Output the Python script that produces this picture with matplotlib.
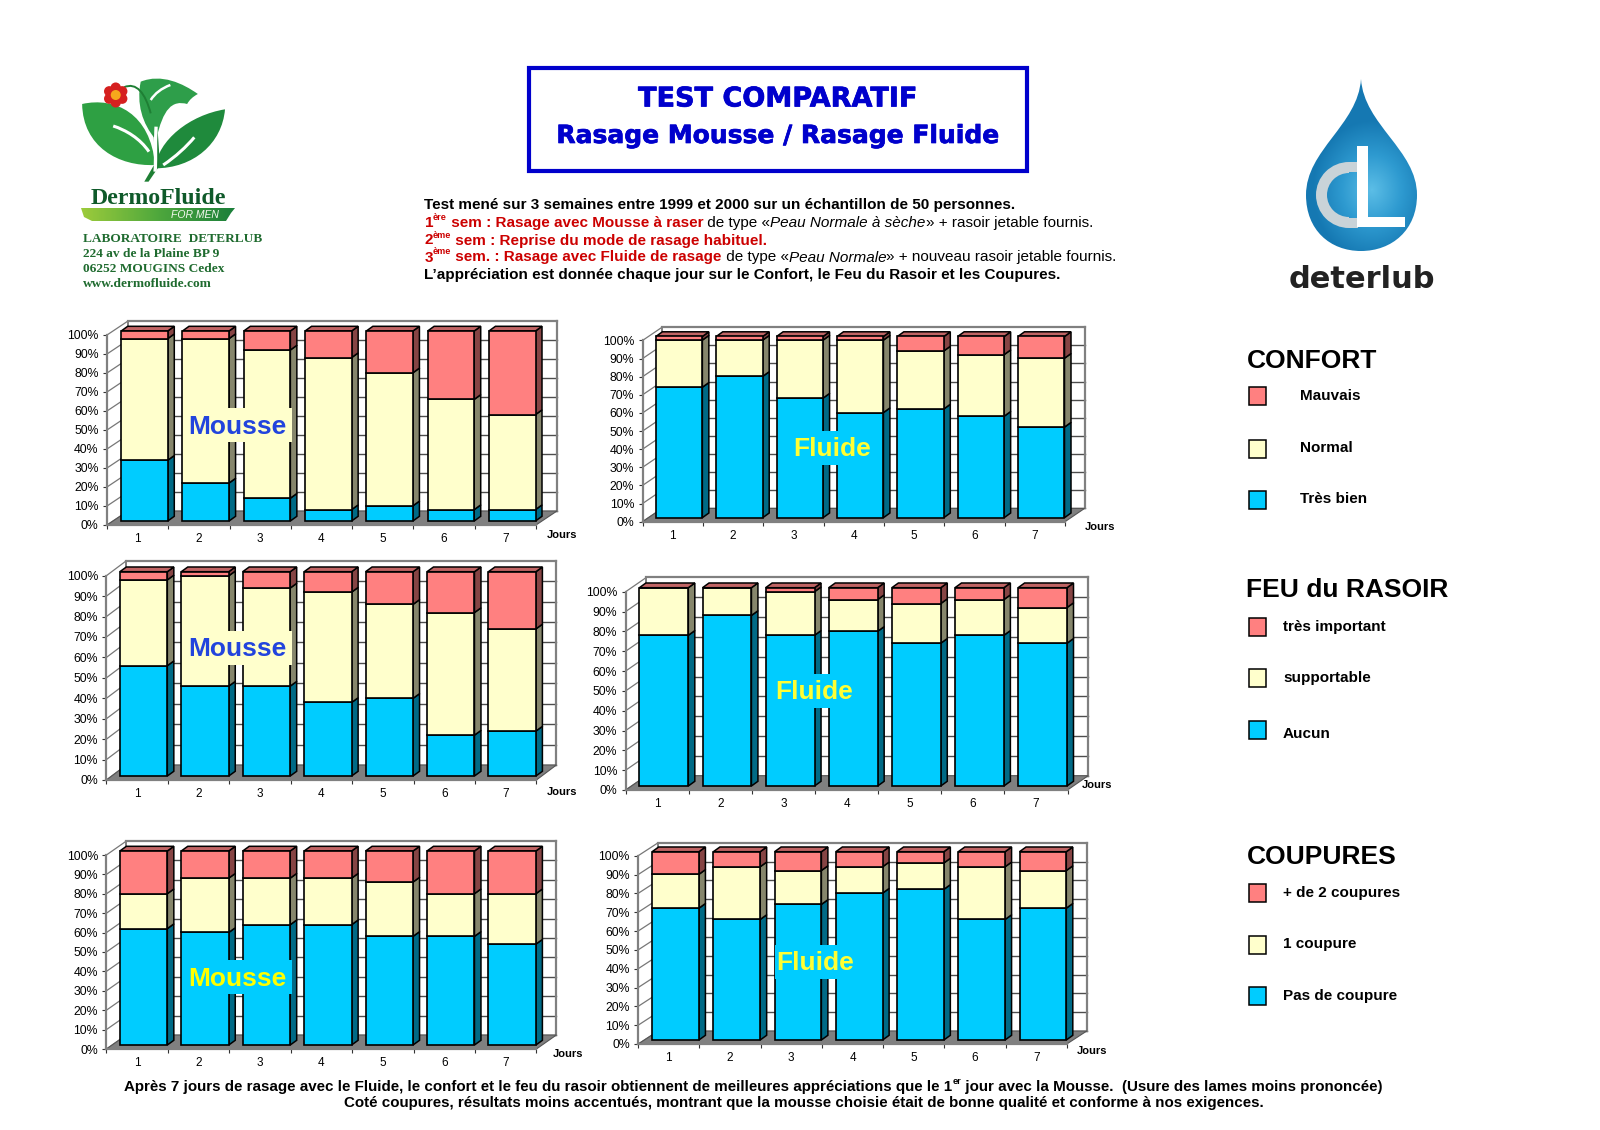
import numpy as np
import matplotlib
matplotlib.use("Agg")
import matplotlib.pyplot as plt
import matplotlib.patheffects as pe
from matplotlib.patches import Polygon, Rectangle, PathPatch, Circle, Wedge
from matplotlib.path import Path

W, H = 1600, 1130
SANS = "Liberation Sans"
SERIF = "Liberation Serif"
plt.rcParams["font.family"] = [SANS, "DejaVu Sans"]

days = ["1", "2", "3", "4", "5", "6", "7"]
pct_labels = ["0%", "10%", "20%", "30%", "40%", "50%", "60%", "70%", "80%", "90%", "100%"]
pct_ticks = [0, 10, 20, 30, 40, 50, 60, 70, 80, 90, 100]

confort_mousse_bien = [32, 20, 12, 6, 8, 6, 6]
confort_mousse_normal = [64, 76, 78, 80, 70, 58, 50]
confort_mousse_mauvais = [4, 4, 10, 14, 22, 36, 44]

confort_fluide_bien = [72, 78, 66, 58, 60, 56, 50]
confort_fluide_normal = [26, 20, 32, 40, 32, 34, 38]
confort_fluide_mauvais = [2, 2, 2, 2, 8, 10, 12]

feu_mousse_aucun = [54, 44, 44, 36, 38, 20, 22]
feu_mousse_supportable = [42, 54, 48, 54, 46, 60, 50]
feu_mousse_important = [4, 2, 8, 10, 16, 20, 28]

feu_fluide_aucun = [76, 86, 76, 78, 72, 76, 72]
feu_fluide_supportable = [24, 14, 22, 16, 20, 18, 18]
feu_fluide_important = [0, 0, 2, 6, 8, 6, 10]

coupures_mousse_zero = [60, 58, 62, 62, 56, 56, 52]
coupures_mousse_une = [18, 28, 24, 24, 28, 22, 26]
coupures_mousse_plus = [22, 14, 14, 14, 16, 22, 22]

coupures_fluide_zero = [70, 64, 72, 78, 80, 64, 70]
coupures_fluide_une = [18, 28, 18, 14, 14, 28, 20]
coupures_fluide_plus = [12, 8, 10, 8, 6, 8, 10]

BLUE, YELLOW, RED = "#00CCFF", "#FFFFCC", "#FF8080"
BLUE_S, YELLOW_S, RED_S = "#006A86", "#86866C", "#864444"
RED_T = "#C06464"
FLOOR = "#808080"

fig = plt.figure(figsize=(W / 100, H / 100), dpi=100, facecolor="white")


def draw_chart(box, stacks, wall, jours_xy, label, label_xy, label_color, box_color, box_w, width):
    """box = (x0, x1, y0, y100) in page pixels of the front plane."""
    x0, x1, y0, y100 = box
    ax = fig.add_axes([x0 / W, 1 - y0 / H, (x1 - x0) / W, (y0 - y100) / H])
    ax.set_xlim(0, 7)
    ax.set_ylim(0, 100)
    ax.patch.set_visible(False)
    ux = 7 / (x1 - x0)      # data units per pixel
    uy = 100 / (y0 - y100)
    dx, dy = wall[0] * ux, wall[1] * uy
    fx, fy = 4.5 * ux, 4.0 * uy          # bar front offset
    bx, by = 6.5 * ux, 4.7 * uy          # bar depth
    shift = 0.5 * ux

    # wall, grid, floor
    for v in pct_ticks:
        ax.plot([dx, 7 + dx], [v + dy, v + dy], color="#4d4d4d" if v != 100 else FLOOR,
                lw=1.0 if v != 100 else 1.6, clip_on=False, zorder=1)
        ax.plot([0, dx], [v, v + dy], color="#777777", lw=0.9, clip_on=False, zorder=1)
    ax.plot([dx, dx], [dy, 100 + dy], color=FLOOR, lw=1.4, clip_on=False, zorder=1)
    ax.plot([7 + dx, 7 + dx], [dy, 100 + dy], color=FLOOR, lw=1.6, clip_on=False, zorder=1)
    ax.add_patch(Polygon([(0, 0), (7, 0), (7 + dx, dy), (dx, dy)], closed=True, fc=FLOOR,
                         ec="#555555", lw=0.8, clip_on=False, zorder=2))

    # bars
    pos = np.arange(7) + 1 - width / 2 - fx - shift
    bottoms = np.zeros(7)
    for values, col, side in stacks:
        values = np.asarray(values, dtype=float)
        for p, b, v in zip(pos, bottoms, values):
            if v <= 0:
                continue
            xr = p + width / 2 + fx
            yb = b + fy
            ax.add_patch(Polygon([(xr, yb), (xr + bx, yb + by), (xr + bx, yb + v + by), (xr, yb + v)],
                                 closed=True, fc=side, ec="black", lw=1.1, clip_on=False, zorder=3))
        bars = ax.bar(pos + fx, values, width=width, bottom=bottoms + fy, color=col, edgecolor="black",
                      linewidth=1.2, zorder=4)
        for r in bars:
            r.set_clip_on(False)
        bottoms = bottoms + values
    for p, t in zip(pos, bottoms):
        xl, xr = p - width / 2 + fx, p + width / 2 + fx
        yt = t + fy
        ax.add_patch(Polygon([(xl, yt), (xr, yt), (xr + bx, yt + by), (xl + bx, yt + by)], closed=True,
                             fc=RED_T, ec="black", lw=1.1, clip_on=False, zorder=3))

    # axes
    for s in ("top", "right"):
        ax.spines[s].set_visible(False)
    for s in ("left", "bottom"):
        ax.spines[s].set_color(FLOOR)
        ax.spines[s].set_linewidth(1.6)
        ax.spines[s].set_zorder(5)
    ax.set_xticks(np.arange(8))
    ax.set_xticklabels([])
    ax.set_xticks(np.arange(7) + 0.5, days, minor=True)
    ax.tick_params(axis="x", which="major", length=3, width=0.8, color="#333333", pad=2)
    ax.tick_params(axis="x", which="minor", length=0, labelsize=8.5, pad=6)
    ax.set_yticks(pct_ticks, pct_labels)
    ax.tick_params(axis="y", length=3, width=0.8, color="#333333", labelsize=8.8, pad=3)

    # overlay text belongs to the page
    page.text(jours_xy[0], jours_xy[1], "Jours", fontsize=8, fontweight="bold", ha="center", va="center")
    page.add_patch(Rectangle((label_xy[0] - box_w / 2, label_xy[1] - 17), box_w, 34, fc=box_color, ec="none",
                             zorder=6))
    page.text(label_xy[0], label_xy[1] + 1.5, label, fontsize=19, fontweight="bold", color=label_color, ha="center",
              va="center", zorder=7)


page = fig.add_axes([0, 0, 1, 1], zorder=10)
page.set_xlim(0, W)
page.set_ylim(H, 0)
page.axis("off")
page.patch.set_visible(False)

M_BLUE = "#2244DD"
F_YELLOW = "#FFFF33"
draw_chart((107, 536, 525, 335),
           [(confort_mousse_bien, BLUE, BLUE_S), (confort_mousse_normal, YELLOW, YELLOW_S),
            (confort_mousse_mauvais, RED, RED_S)],
           (21, 14), (562, 535), "Mousse", (237.5, 425), M_BLUE, YELLOW, 108, 0.76)
draw_chart((642.5, 1065, 521.7, 340.5),
           [(confort_fluide_bien, BLUE, BLUE_S), (confort_fluide_normal, YELLOW, YELLOW_S),
            (confort_fluide_mauvais, RED, RED_S)],
           (19.6, 13.3), (1100, 527), "Fluide", (832, 448), F_YELLOW, BLUE, 80, 0.77)
draw_chart((106.4, 536.4, 780, 575.7),
           [(feu_mousse_aucun, BLUE, BLUE_S), (feu_mousse_supportable, YELLOW, YELLOW_S),
            (feu_mousse_important, RED, RED_S)],
           (20, 15), (562, 792), "Mousse", (237.5, 648), M_BLUE, YELLOW, 108, 0.773)
draw_chart((625.7, 1067.5, 790, 591.7),
           [(feu_fluide_aucun, BLUE, BLUE_S), (feu_fluide_supportable, YELLOW, YELLOW_S),
            (feu_fluide_important, RED, RED_S)],
           (20.7, 14.3), (1097.5, 785), "Fluide", (814, 690.7), F_YELLOW, BLUE, 80, 0.775)
draw_chart((106.4, 536.4, 1049, 855),
           [(coupures_mousse_zero, BLUE, BLUE_S), (coupures_mousse_une, YELLOW, YELLOW_S),
            (coupures_mousse_plus, RED, RED_S)],
           (20, 14), (568, 1054), "Mousse", (237.5, 977), "#FFFF00", BLUE, 108, 0.773)
draw_chart((638.2, 1066.8, 1044, 855.7),
           [(coupures_fluide_zero, BLUE, BLUE_S), (coupures_fluide_une, YELLOW, YELLOW_S),
            (coupures_fluide_plus, RED, RED_S)],
           (20, 13), (1092, 1051), "Fluide", (815, 961.7), F_YELLOW, BLUE, 80, 0.764)

# ---- title box
heavy = [pe.withStroke(linewidth=0.5, foreground="#0000CC")]
page.add_patch(Rectangle((529, 67.5), 498, 103, fc="white", ec="#0000CC", lw=3))
page.text(778, 99.5, "TEST COMPARATIF", family="DejaVu Sans", fontweight="bold", fontsize=19.5, color="#0000CC",
          ha="center", va="center", path_effects=heavy)
page.text(778, 136, "Rasage Mousse / Rasage Fluide", family="DejaVu Sans", fontweight="bold", fontsize=18,
          color="#0000CC", ha="center", va="center", path_effects=heavy)

# ---- mixed-format lines
renderer = fig.canvas.get_renderer()


def rich(x, y, parts, size):
    for part in parts:
        s, col, weight, style, sup = part
        fs = size * 0.6 if sup else size
        yy = y - 5 if sup else y
        t = page.text(x, yy, s, color=col, fontweight=weight, fontstyle=style, fontsize=fs, ha="left",
                      va="center_baseline")
        x = t.get_window_extent(renderer).x1
    return x


RD = "#CC0000"
K = "black"
SIZE = 10.95
rich(424.5, 204, [("Test mené sur 3 semaines entre 1999 et 2000 sur un échantillon de 50 personnes.", K, "bold", "normal", False)], SIZE)
rich(424.5, 221.5, [("1", RD, "bold", "normal", False), ("ère", RD, "bold", "normal", True),
                    (" sem : Rasage avec Mousse à raser", RD, "bold", "normal", False),
                    (" de type «", K, "normal", "normal", False),
                    ("Peau Normale à sèche", K, "normal", "italic", False),
                    ("» + rasoir jetable fournis.", K, "normal", "normal", False)], SIZE)
rich(424.5, 239, [("2", RD, "bold", "normal", False), ("ème", RD, "bold", "normal", True),
                  (" sem : Reprise du mode de rasage habituel.", RD, "bold", "normal", False)], SIZE)
rich(424.5, 256, [("3", RD, "bold", "normal", False), ("ème", RD, "bold", "normal", True),
                  (" sem. : Rasage avec Fluide de rasage", RD, "bold", "normal", False),
                  (" de type «", K, "normal", "normal", False),
                  ("Peau Normale", K, "normal", "italic", False),
                  ("» + nouveau rasoir jetable fournis.", K, "normal", "normal", False)], SIZE)
rich(424.5, 273, [("L’appréciation est donnée chaque jour sur le Confort, le Feu du Rasoir et les Coupures.", K, "bold", "normal", False)], SIZE)

rich(124.5, 1085, [("Après 7 jours de rasage avec le Fluide, le confort et le feu du rasoir obtiennent de meilleures appréciations que le 1", K, "bold", "normal", False),
                   ("er", K, "bold", "normal", True),
                   (" jour avec la Mousse.  (Usure des lames moins prononcée)", K, "bold", "normal", False)], 10.9)
page.text(804, 1102, "Coté coupures, résultats moins accentués, montrant que la mousse choisie était de bonne qualité et conforme à nos exigences.",
          fontweight="bold", fontsize=10.9, ha="center", va="center_baseline")

# ---- legends
legend_blocks = [
    ("CONFORT", 361, 1300, [("Mauvais", RED, 396, 396.5), ("Normal", YELLOW, 448.5, 448), ("Très bien", BLUE, 499.5, 499)]),
    ("FEU du RASOIR", 590, 1283, [("très important", RED, 626.5, 626.5), ("supportable", YELLOW, 678, 678), ("Aucun", BLUE, 730, 734)]),
    ("COUPURES", 857, 1283, [("+ de 2 coupures", RED, 893, 893), ("1 coupure", YELLOW, 945, 944), ("Pas de coupure", BLUE, 995.5, 996)]),
]
for head, hy, tx, rows in legend_blocks:
    page.text(1246.5, hy, head, fontsize=19, fontweight="bold", ha="left", va="center")
    for txt, col, sy, ty in rows:
        page.add_patch(Rectangle((1248.5, sy - 9), 17, 18, fc=col, ec="black", lw=1.1))
        page.text(tx, ty, txt, fontsize=11, fontweight="bold", ha="left", va="center")


# ---- DermoFluide logo (decoration)
def z(zx, zy):
    return (40 + zx / 2.8, 50 + zy / 3)


def shape(points, fc, zo=3):
    """points: start + triplets of bezier control points in zoom coordinates"""
    verts = [z(*p) for p in points]
    codes = [Path.MOVETO] + [Path.CURVE4] * (len(verts) - 1)
    page.add_patch(PathPatch(Path(verts, codes), fc=fc, ec="none", lw=0, zorder=zo))


def vein(points, col="white", lw=1.6):
    verts = [z(*p) for p in points]
    codes = [Path.MOVETO] + [Path.CURVE4] * (len(verts) - 1)
    page.add_patch(PathPatch(Path(verts, codes), fc="none", ec=col, lw=lw, zorder=4))


shape([(118, 162), (210, 140), (310, 190), (322, 345), (220, 350), (120, 290), (118, 162)], "#2EA043")
shape([(322, 355), (330, 270), (420, 195), (518, 178), (510, 280), (430, 355), (322, 355)], "#1F8A3C")
shape([(282, 95), (340, 70), (400, 100), (442, 132), (428, 140), (418, 150), (412, 162),
       (370, 150), (345, 175), (325, 270), (285, 220), (270, 160), (282, 95)], "#2E9E4A")
page.add_patch(Polygon([z(292, 395), z(322, 340), z(318, 250), z(330, 250), z(336, 345), z(304, 395)], closed=True,
                       fc="#1E7F34", ec="none", zorder=3))
vein([(205, 228), (240, 240), (280, 265), (305, 305)], lw=2.2)
vein([(345, 345), (380, 320), (410, 290), (432, 262)], lw=2.2)
vein([(310, 150), (322, 130), (340, 115), (365, 105)], lw=1.8)
vein([(325, 230), (322, 290), (325, 340), (322, 365)], lw=2.4)
vein([(235, 112), (270, 95), (295, 130), (310, 190)], col="#1E7F34", lw=1.4)
for a in np.arange(0, 360, 60):
    cx, cy = z(212 + 21 * np.cos(np.radians(a + 30)), 135 + 22 * np.sin(np.radians(a + 30)))
    page.add_patch(Circle((cx, cy), 5.2, fc="#D5201F", ec="none", zorder=5))
page.add_patch(Circle(z(212, 135), 5, fc="#F6A81C", ec="none", zorder=6))

page.text(158, 199, "DermoFluide", family=SERIF, fontweight="bold", fontsize=17.2, color="#0F5A2A", ha="center", va="center")
grad = np.linspace(0, 1, 128).reshape(1, -1)
band_cmap = matplotlib.colors.LinearSegmentedColormap.from_list("band", ["#9CCB3B", "#4FA83D", "#1B7F3A"])
band = PathPatch(Path([(81, 208), (235, 208), (231, 213), (226, 221), (92, 221), (84, 217), (81, 208)],
                      [Path.MOVETO] + [Path.LINETO] * 5 + [Path.CLOSEPOLY]), fc="none", ec="none")
page.add_patch(band)
im = page.imshow(grad, extent=(81, 235, 221, 208), cmap=band_cmap, aspect="auto", zorder=2)
im.set_clip_path(band)
page.text(195, 214.5, "FOR MEN", fontsize=7.5, fontstyle="italic", color="#F2F7EE", ha="center", va="center", zorder=4)
for yy, s in zip([239, 254, 269, 284],
                 ["LABORATOIRE  DETERLUB", "224 av de la Plaine BP 9", "06252 MOUGINS Cedex", "www.dermofluide.com"]):
    page.text(83, yy, s, family=SERIF, fontweight="bold", fontsize=9.6, color="#1F6B2F", ha="left", va="center")

# ---- deterlub drop (decoration)
drop_path = Path([(1361, 79), (1364, 125), (1417, 150), (1417, 195), (1417, 230), (1392, 251), (1361, 251),
                  (1330, 251), (1306, 230), (1306, 195), (1306, 150), (1358, 125), (1361, 79)],
                 [Path.MOVETO] + [Path.CURVE4] * 12)
drop = PathPatch(drop_path, fc="none", ec="none")
page.add_patch(drop)
yy_g, xx_g = np.mgrid[79:251:172j, 1306:1418:112j]
rad = np.clip(np.hypot((xx_g - 1372) / 60, (yy_g - 190) / 70), 0, 1)
drop_cmap = matplotlib.colors.LinearSegmentedColormap.from_list("drop", ["#5BBDE6", "#2E9AD0", "#1578B2"])
im2 = page.imshow(rad, extent=(1306, 1418, 251, 79), cmap=drop_cmap, aspect="auto", zorder=2)
im2.set_clip_path(drop)
page.add_patch(Wedge((1349, 195), 33, 90, 270, width=11, fc="#C9D3D8", ec="none", zorder=3))
page.add_patch(Rectangle((1349, 162), 9, 10, fc="#C9D3D8", ec="none", zorder=3))
page.add_patch(Rectangle((1349, 218), 9, 10, fc="#C9D3D8", ec="none", zorder=3))
page.add_patch(Rectangle((1357, 146), 11, 81, fc="white", ec="none", zorder=4))
page.add_patch(Rectangle((1357, 217), 48, 10, fc="white", ec="none", zorder=4))
page.text(1362, 280, "deterlub", family="DejaVu Sans", fontweight="bold", fontsize=22, color="#222222", ha="center", va="center")

page.set_xlim(0, W)
page.set_ylim(H, 0)
page.set_aspect("auto")

fig.savefig("out.png", dpi=100, facecolor="white")
